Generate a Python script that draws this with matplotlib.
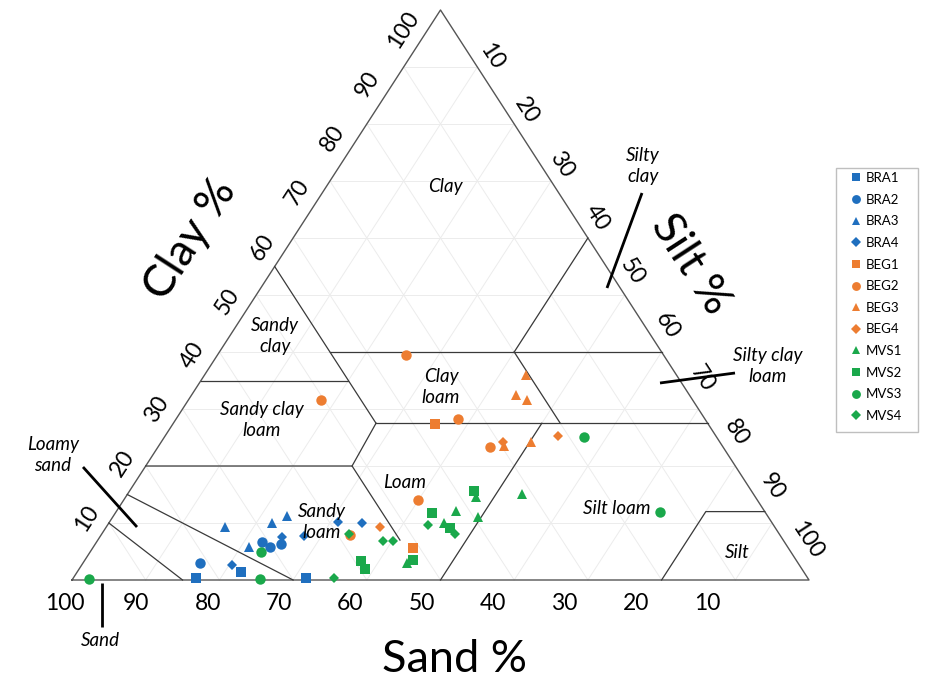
import numpy as np
import matplotlib.pyplot as plt
from matplotlib.patches import Rectangle

plt.rcParams['font.family'] = ['Lato', 'DejaVu Sans']

# soil samples: sand % and clay % (silt = 100 - sand - clay)
BRA1_sand = [83.0, 76.4, 68.1]
BRA1_clay = [0.3, 1.4, 0.4]
BRA2_sand = [81.1, 70.9, 70.2, 68.5]
BRA2_clay = [3.0, 6.7, 5.8, 6.3]
BRA3_sand = [74.6, 73.1, 67.9, 65.2]
BRA3_clay = [9.3, 5.8, 10.0, 11.2]
BRA4_sand = [77.0, 67.7, 64.7, 58.8, 55.6]
BRA4_clay = [2.6, 7.5, 7.7, 10.2, 10.0]
BEG1_sand = [37.1, 50.9]
BEG1_clay = [27.4, 5.6]
BEG2_sand = [34.9, 50.4, 33.5, 31.6, 46.0, 58.3]
BEG2_clay = [39.5, 31.6, 28.2, 23.3, 14.0, 7.9]
BEG3_sand = [20.4, 23.5, 22.5, 29.6, 25.6]
BEG3_clay = [36.0, 32.5, 31.6, 23.5, 24.2]
BEG4_sand = [29.4, 21.4, 53.6]
BEG4_clay = [24.2, 25.3, 9.3]
MVS1_sand = [53.0, 44.5, 41.8, 37.9, 39.4, 31.4]
MVS1_clay = [3.0, 10.0, 12.1, 14.6, 11.1, 15.1]
MVS2_sand = [59.1, 59.3, 52.0, 37.7, 45.3, 44.2]
MVS2_clay = [3.3, 1.9, 3.5, 15.6, 11.8, 9.1]
MVS3_sand = [97.6, 74.4, 71.9, 18.0, 14.3]
MVS3_clay = [0.2, 0.2, 4.9, 25.1, 11.9]
MVS4_sand = [64.3, 54.4, 53.0, 46.9, 44.0, 58.4]
MVS4_clay = [0.4, 6.8, 6.8, 9.6, 8.1, 8.1]

series = [
    ('BRA1', BRA1_sand, BRA1_clay, 's', '#1f6fbf'),
    ('BRA2', BRA2_sand, BRA2_clay, 'o', '#1f6fbf'),
    ('BRA3', BRA3_sand, BRA3_clay, '^', '#1f6fbf'),
    ('BRA4', BRA4_sand, BRA4_clay, 'D', '#1f6fbf'),
    ('BEG1', BEG1_sand, BEG1_clay, 's', '#ed7d31'),
    ('BEG2', BEG2_sand, BEG2_clay, 'o', '#ed7d31'),
    ('BEG3', BEG3_sand, BEG3_clay, '^', '#ed7d31'),
    ('BEG4', BEG4_sand, BEG4_clay, 'D', '#ed7d31'),
    ('MVS1', MVS1_sand, MVS1_clay, '^', '#1aa84b'),
    ('MVS2', MVS2_sand, MVS2_clay, 's', '#1aa84b'),
    ('MVS3', MVS3_sand, MVS3_clay, 'o', '#1aa84b'),
    ('MVS4', MVS4_sand, MVS4_clay, 'D', '#1aa84b'),
]
msize = {'s': 7, 'o': 7.5, '^': 7.5, 'D': 5.5}

# USDA texture class boundaries as (sand, clay) pairs
boundaries = [
    [(85, 0), (90, 10)],
    [(70, 0), (85, 15)],
    [(80, 20), (52, 20), (52, 7)],
    [(52, 20), (45, 27.5)],
    [(50, 0), (22.5, 27.5)],
    [(45, 27.5), (0, 27.5)],
    [(65, 35), (45, 35)],
    [(45, 55), (45, 27.5)],
    [(45, 40), (0, 40)],
    [(20, 40), (0, 60)],
    [(20, 40), (20, 27.5)],
    [(20, 0), (8, 12), (0, 12)],
]


def tri(sand, clay):
    sand = np.asarray(sand, dtype=float)
    clay = np.asarray(clay, dtype=float)
    return 100 - sand - clay / 2, clay


# figure pixel -> data coords (for labels / pointers)
def P(xp, yp):
    return (xp - 72) / 7.37, (580 - yp) / 5.70


W, H = 934, 688
fig = plt.figure(figsize=(W / 100, H / 100), dpi=100)
ax = fig.add_axes([0, 0, 1, 1])
ax.set_xlim(-72 / 7.37, (W - 72) / 7.37)
ax.set_ylim((580 - H) / 5.70, 580 / 5.70)
ax.axis('off')

# faint grid
for k in range(10, 100, 10):
    for s, c in [((100 - k, 0), (k, k)), ((k, k), (0, 100 - k)), ((100 - k, 0), (0, 100 - k))]:
        x, y = tri(s, c)
        ax.plot(x, y, color='#ececec', lw=0.7, zorder=1)
x, y = tri([100, 0, 0, 100], [0, 0, 100, 0])
ax.plot(x, y, color='#555555', lw=1.0, zorder=2)

for b in boundaries:
    s, c = zip(*b)
    x, y = tri(s, c)
    ax.plot(x, y, color='#3a3a3a', lw=0.9, zorder=2)

handles = []
for name, s, c, m, col in series:
    x, y = tri(s, c)
    h, = ax.plot(x, y, linestyle='none', marker=m, ms=msize[m], color=col,
                 markeredgewidth=0, label=name, zorder=3)
    handles.append(h)

# tick labels
ticks = np.arange(10, 101, 10)
for i, t in enumerate(ticks):
    f = i / 9
    ax.text(*P(87 + f * (403 - 87), 518 + f * (30 - 518)), str(t), fontsize=16.5,
            rotation=57, ha='center', va='center')
    ax.text(*P(492 + f * (807 - 492), 57 + f * (540 - 57)), str(t), fontsize=16.5,
            rotation=-57, ha='center', va='center')
    ax.text(*P(707 - f * (707 - 65), 603), str(t), fontsize=16.5,
            ha='center', va='center')

ax.text(*P(190, 240), 'Clay %', fontsize=32.5, rotation=57, ha='center', va='center')
ax.text(*P(690, 264), 'Silt %', fontsize=32.5, rotation=-57, ha='center', va='center')
ax.text(*P(455, 660), 'Sand %', fontsize=32.5, ha='center', va='center')

regions = [
    ('Clay', 445, 187), ('Sandy\nclay', 275, 336), ('Clay\nloam', 441, 387),
    ('Sandy clay\nloam', 262, 420), ('Loam', 405, 483), ('Sandy\nloam', 322, 522),
    ('Silt loam', 617, 509), ('Silt', 737, 553), ('Silty\nclay', 643, 166),
    ('Silty clay\nloam', 768, 366), ('Loamy\nsand', 53, 455), ('Sand', 100, 640),
]
for txt, xp, yp in regions:
    ax.text(*P(xp, yp), txt, fontsize=13.5, style='italic', ha='center',
            va='center', linespacing=1.25)

pointers = [((102, 583), (102, 627)), ((83, 467), (137, 527)),
            ((642, 193), (607, 288)), ((660, 383), (735, 373))]
for a, b in pointers:
    (x0, y0), (x1, y1) = P(*a), P(*b)
    ax.plot([x0, x1], [y0, y1], color='black', lw=2.0, solid_capstyle='butt', zorder=4)

# legend box drawn separately for Excel-like padding
fig.patches.append(Rectangle((836 / W, 1 - 432 / H), 82 / W, 264 / H,
                             transform=fig.transFigure, facecolor='none',
                             edgecolor='#bfbfbf', lw=1.0))
ax.legend(handles=handles, loc='upper left', bbox_to_anchor=(851 / W, 1 - 172 / H),
          bbox_transform=fig.transFigure, fontsize=9.5, frameon=False,
          labelspacing=0.73, handlelength=0.8, handletextpad=0.33,
          borderpad=0, borderaxespad=0, markerscale=0.85)

plt.savefig('out.png', dpi=100)
